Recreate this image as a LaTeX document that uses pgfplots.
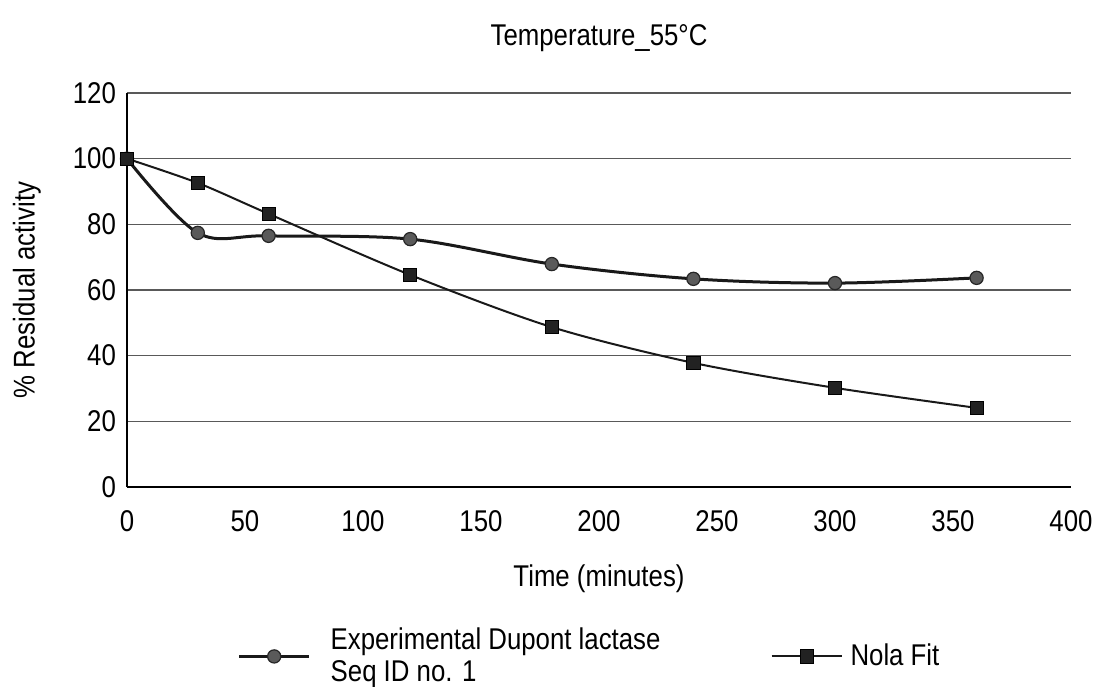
\documentclass[border=0pt]{standalone}
\usepackage{fontspec}
\setmainfont{Liberation Sans}[FakeStretch=0.86]
\usepackage{pgfplots}
\pgfplotsset{compat=1.18}
\definecolor{circfill}{HTML}{5A5A5A}
\definecolor{sqfill}{HTML}{222222}
\begin{document}
\begin{tikzpicture}
\begin{axis}[
  scale only axis,
  width=472pt, height=197pt,
  xmin=0, xmax=400, ymin=0, ymax=120,
  xtick={0,50,...,400}, ytick={0,20,...,120},
  axis lines=left,
  axis line style={-, line width=0.9pt, black},
  major tick length=0pt,
  ymajorgrids,
  grid style={line width=0.7pt, black!65},
  font=\fontsize{15}{18}\selectfont,
  tick label style={font=\fontsize{15}{18}\selectfont},
  /pgf/number format/assume math mode=true,
  yticklabel style={xshift=-2pt},
  xticklabel style={yshift=-8pt},
  title={Temperature\_55°C},
  title style={at={(axis description cs:0.5,1.109)}, anchor=center},
  xlabel={Time (minutes)},
  xlabel style={at={(axis description cs:0.5,-0.233)}, anchor=center},
  ylabel={\% Residual activity},
  ylabel style={at={(axis description cs:-0.106,0.5)}, anchor=center, rotate=0},
  legend columns=2,
  legend style={draw=none, fill=none, at={(axis description cs:0.49,-0.43)}, anchor=center,
    font=\fontsize{15}{16}\selectfont,
    nodes={align=left, inner sep=1pt},
    /tikz/column 1/.style={column sep=9pt},
    /tikz/column 2/.style={column sep=54pt},
    /tikz/column 3/.style={column sep=3pt}},
  legend image code/.code={\draw[#1, mark repeat=2, mark phase=2] plot coordinates {(0pt,0pt) (17.5pt,0pt) (35pt,0pt)};},
]
\addplot[smooth, tension=0.55, line width=1.5pt, black!90, mark=*, mark size=3.3pt,
  mark options={fill=circfill, draw=black!85, line width=0.6pt}]
  coordinates {(0,100) (30,77.4) (60,76.5) (120,75.5) (180,67.9) (240,63.4) (300,62.1) (360,63.7)};
\addlegendentry{Experimental Dupont lactase\\Seq ID no. 1}
\addplot[smooth, tension=0.5, line width=1pt, black!90, mark=square*, mark size=3.3pt,
  mark options={fill=sqfill, draw=black, line width=0.4pt}]
  coordinates {(0,100) (30,92.6) (60,83.2) (120,64.6) (180,48.7) (240,37.8) (300,30.2) (360,24.1)};
\addlegendentry{Nola Fit}
\end{axis}
\pgfresetboundingbox
\path (-63.5pt,-99.5pt) rectangle (484.5pt,243.5pt);
\end{tikzpicture}
\end{document}
